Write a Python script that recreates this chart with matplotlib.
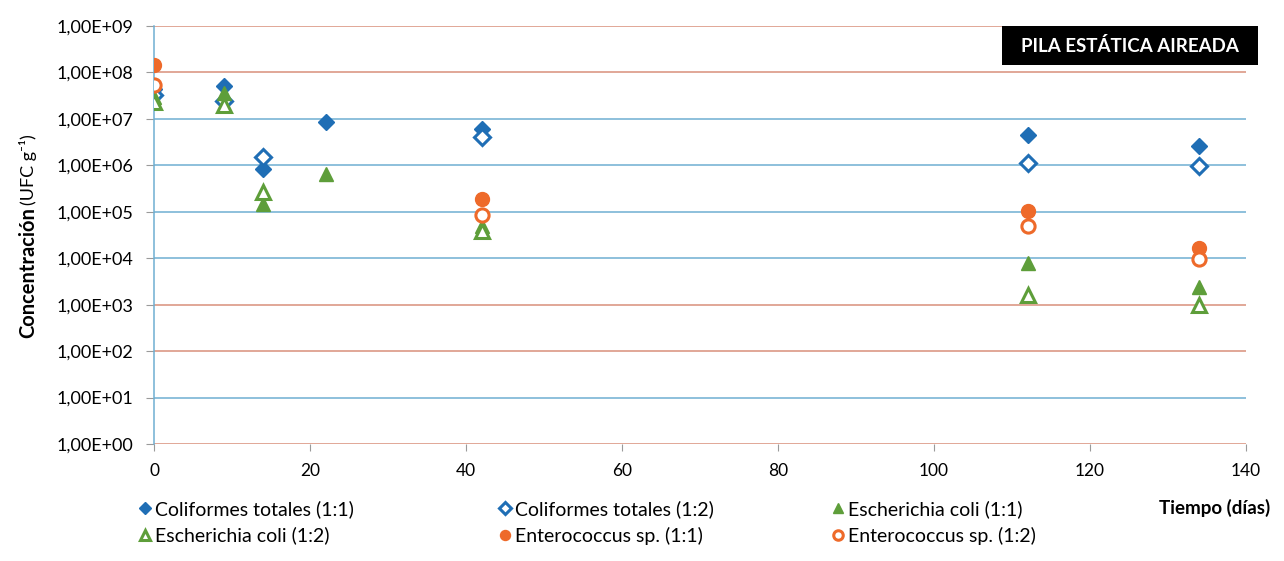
import math
import matplotlib
matplotlib.use("Agg")
import matplotlib.pyplot as plt
from matplotlib.ticker import FixedLocator, FuncFormatter, NullLocator
from matplotlib.patches import Rectangle

# ---- data ----
days_ct11 = [0, 9, 14, 22, 42, 112, 134]
ct11 = [4.5e7, 5.0e7, 8.5e5, 8.5e6, 6.0e6, 4.6e6, 2.6e6]
days_ct12 = [0, 9, 14, 42, 112, 134]
ct12 = [3.2e7, 2.4e7, 1.5e6, 4.0e6, 1.1e6, 9.8e5]
days_ec11 = [0, 9, 14, 22, 42, 112, 134]
ec11 = [3.0e7, 3.6e7, 1.5e5, 6.5e5, 5.0e4, 8.0e3, 2.4e3]
days_ec12 = [0, 9, 14, 42, 112, 134]
ec12 = [2.3e7, 2.0e7, 2.7e5, 3.8e4, 1.6e3, 1.0e3]
days_en11 = [0, 42, 112, 134]
en11 = [1.45e8, 1.9e5, 1.05e5, 1.7e4]
days_en12 = [0, 42, 112, 134]
en12 = [5.4e7, 8.5e4, 4.9e4, 9.6e3]

series_labels = ["Coliformes totales (1:1)", "Coliformes totales (1:2)",
                 "Escherichia coli (1:1)", "Escherichia coli (1:2)",
                 "Enterococcus sp. (1:1)", "Enterococcus sp. (1:2)"]
xticks = [0, 20, 40, 60, 80, 100, 120, 140]
ydecades = list(range(0, 10))
title_text = "PILA ESTÁTICA AIREADA"
xlabel_text = "Tiempo (días)"

BLUE = "#1F6EB5"
GREEN = "#5E9E3A"
ORANGE = "#EE6A2A"
GRID_BLUE = "#6FAFD2"
GRID_RED = "#D9907A"
grid_colors = [GRID_RED, GRID_BLUE, GRID_RED, GRID_RED, GRID_BLUE,
               GRID_BLUE, GRID_BLUE, GRID_BLUE, GRID_RED, GRID_RED]

FONT = ["Lato", "DejaVu Sans"]
plt.rcParams['font.family'] = FONT

W, H = 1284, 561
fig = plt.figure(figsize=(W / 100, H / 100), dpi=100)
ax = fig.add_axes([154 / W, 1 - 444 / H, (1246 - 154) / W, (444 - 26) / H])

ax.set_yscale('log')
ax.set_xlim(0, 140)
ax.set_ylim(1, 1e9)

for d, c in zip(ydecades, grid_colors):
    ax.axhline(10 ** d, color=c, lw=1.1, zorder=0)

h = []
h += ax.plot(days_ct11, ct11, linestyle='none', marker='D', ms=8.5, color=BLUE,
             label=series_labels[0], zorder=3)
h += ax.plot(days_ct12, ct12, linestyle='none', marker='D', ms=8, mfc='white',
             mec=BLUE, mew=2.2, label=series_labels[1], zorder=3)
h += ax.plot(days_ec11, ec11, linestyle='none', marker='^', ms=10.5, color=GREEN,
             label=series_labels[2], zorder=3)
h += ax.plot(days_ec12, ec12, linestyle='none', marker='^', ms=10, mfc='white',
             mec=GREEN, mew=2.2, label=series_labels[3], zorder=3)
h += ax.plot(days_en11, en11, linestyle='none', marker='o', ms=10, color=ORANGE,
             label=series_labels[4], zorder=3)
h += ax.plot(days_en12, en12, linestyle='none', marker='o', ms=9.5, mfc='white',
             mec=ORANGE, mew=2.2, label=series_labels[5], zorder=3)

for s in ['top', 'right', 'bottom']:
    ax.spines[s].set_visible(False)
ax.spines['left'].set_color(GRID_BLUE)
ax.spines['left'].set_linewidth(1.1)

ax.yaxis.set_major_locator(FixedLocator([10 ** d for d in ydecades]))
ax.yaxis.set_minor_locator(NullLocator())
ax.yaxis.set_major_formatter(FuncFormatter(lambda v, p: "1,00E+%02d" % round(math.log10(v))))
ax.set_xticks(xticks)
ax.tick_params(axis='y', length=6, color='#9A9A9A', labelsize=13, pad=9,
               direction='out')
ax.tick_params(axis='x', length=5, color='#9A9A9A', labelsize=12.5, pad=9,
               direction='out')

# Y label (bold part + normal part)
fig.text(28 / W, 1 - 338 / H, "Concentración", rotation=90, ha='center',
         va='bottom', fontsize=14.5, fontweight='bold')
fig.text(28 / W, 1 - 205 / H, "(UFC g⁻¹)", rotation=90, ha='center',
         va='bottom', fontsize=13, family=["Lato", "DejaVu Sans"])

# X label
fig.text(1270 / W, 1 - 508 / H, xlabel_text, ha='right', va='center',
         fontsize=13.5, fontweight='bold')

# Title box
fig.patches.append(Rectangle((1002 / W, 1 - 65 / H), 256 / W, 39 / H,
                             transform=fig.transFigure, fc='black', ec='none'))
fig.text(1130 / W, 1 - 46 / H, title_text, ha='center', va='center',
         fontsize=13.5, fontweight='bold', color='white')

# Legend: three columns placed individually
col_x = [137, 497, 830]
for ci, (i1, i2) in enumerate([(0, 3), (1, 4), (2, 5)]):
    leg = fig.legend([h[i1], h[i2]], [series_labels[i1], series_labels[i2]],
                     loc='upper left', bbox_to_anchor=(col_x[ci] / W, 1 - 500 / H),
                     frameon=False, handletextpad=0.15, handlelength=0.8,
                     labelspacing=0.45, borderpad=0, borderaxespad=0,
                     markerscale=0.72, prop={'size': 14})

fig.savefig("out.png", dpi=100)
